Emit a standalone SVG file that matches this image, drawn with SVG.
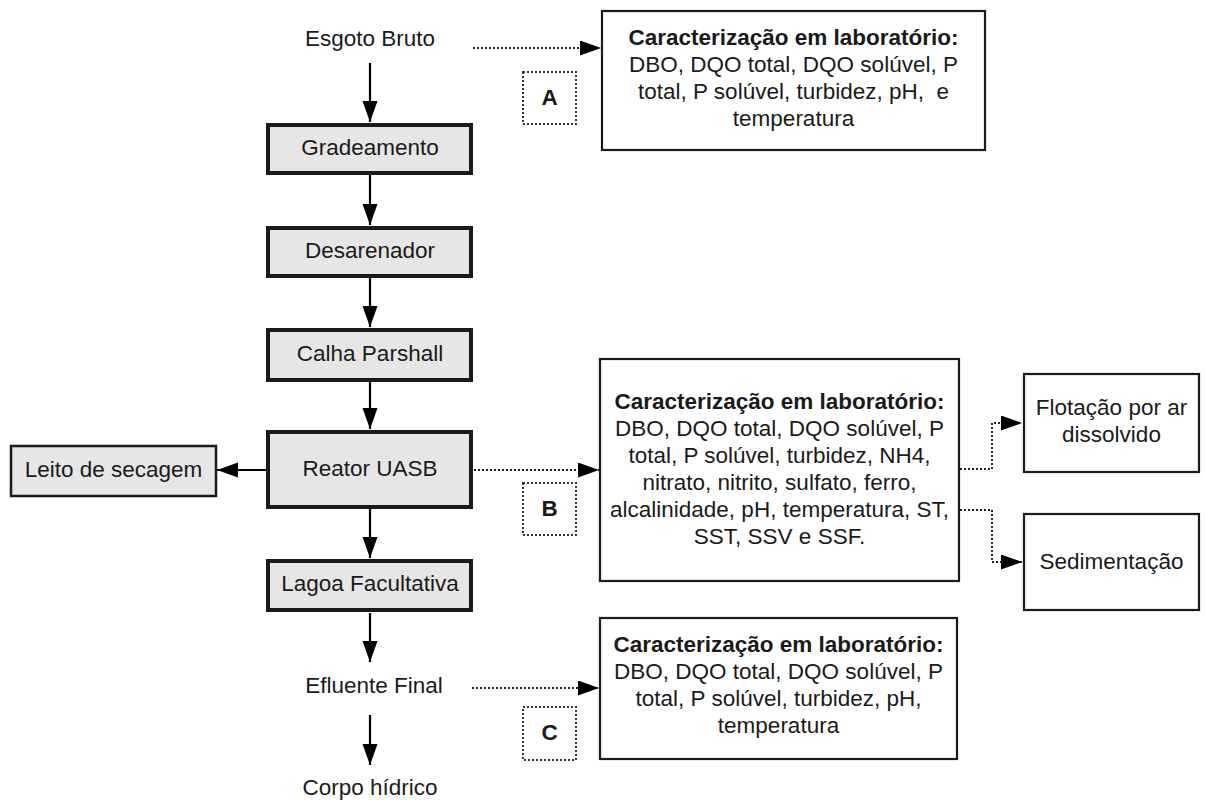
<svg xmlns="http://www.w3.org/2000/svg" width="1205" height="801" viewBox="0 0 1205 801">
<style>
text{font-family:"Liberation Sans",Arial,sans-serif;font-size:22.5px;fill:#1a1a1a;text-anchor:middle}
.b{font-weight:bold}
.main{fill:#e6e6e6;stroke:#1a1a1a;stroke-width:4}
.side{fill:#e6e6e6;stroke:#1a1a1a;stroke-width:2.5}
.lab{fill:#fff;stroke:#1a1a1a;stroke-width:2.2}
.dotbox{fill:none;stroke:#333;stroke-width:2;stroke-dasharray:2 2}
.solid{fill:none;stroke:#000;stroke-width:2.2}
.dot{fill:none;stroke:#222;stroke-width:2;stroke-dasharray:2 2}
</style>
<defs>
<marker id="ah" markerUnits="userSpaceOnUse" markerWidth="22" markerHeight="16" refX="21" refY="7.5" orient="auto">
<path d="M0,0 L21,7.5 L0,15 z" fill="#000"/>
</marker>
</defs>
<g id="connectors">
<line class="solid" x1="370" y1="63" x2="370" y2="122" marker-end="url(#ah)"/>
<line class="solid" x1="370" y1="175" x2="370" y2="225" marker-end="url(#ah)"/>
<line class="solid" x1="370" y1="278" x2="370" y2="327" marker-end="url(#ah)"/>
<line class="solid" x1="370" y1="382" x2="370" y2="429" marker-end="url(#ah)"/>
<line class="solid" x1="370" y1="509" x2="370" y2="558" marker-end="url(#ah)"/>
<line class="solid" x1="370" y1="613" x2="370" y2="662" marker-end="url(#ah)"/>
<line class="solid" x1="370" y1="715" x2="370" y2="765" marker-end="url(#ah)"/>
<line class="solid" x1="266" y1="470" x2="217" y2="470" marker-end="url(#ah)"/>
<line class="dot" x1="474" y1="470" x2="599" y2="470" marker-end="url(#ah)"/>
<line class="dot" x1="473" y1="48" x2="601" y2="48" marker-end="url(#ah)"/>
<line class="dot" x1="472" y1="688" x2="599" y2="688" marker-end="url(#ah)"/>
<path class="dot" d="M960,469 H992 V423 H1022" marker-end="url(#ah)"/>
<path class="dot" d="M960,510 H992 V562 H1022" marker-end="url(#ah)"/>
</g>
<g id="esgoto"><text x="370" y="46">Esgoto Bruto</text></g>
<g id="gradeamento"><rect class="main" x="268" y="125" width="203" height="48"/><text x="370" y="155">Gradeamento</text></g>
<g id="desarenador"><rect class="main" x="268" y="228" width="203" height="48"/><text x="370" y="258">Desarenador</text></g>
<g id="calha"><rect class="main" x="268" y="330" width="203" height="50"/><text x="370" y="361">Calha Parshall</text></g>
<g id="reator"><rect class="main" x="268" y="432" width="203" height="75"/><text x="370" y="476">Reator UASB</text></g>
<g id="leito"><rect class="side" x="11" y="446" width="205" height="50"/><text x="113.5" y="477">Leito de secagem</text></g>
<g id="lagoa"><rect class="main" x="268" y="561" width="203" height="49"/><text x="370" y="591">Lagoa Facultativa</text></g>
<g id="efluente"><text x="374" y="693">Efluente Final</text></g>
<g id="corpo"><text x="370" y="795">Corpo hídrico</text></g>
<g id="labA"><rect class="lab" x="602" y="11" width="383" height="139"/>
<text class="b" x="793.5" y="45">Caracterização em laboratório:</text>
<text x="793.5" y="72">DBO, DQO total, DQO solúvel, P</text>
<text x="793.5" y="99" xml:space="preserve">total, P solúvel, turbidez, pH,  e</text>
<text x="793.5" y="126">temperatura</text></g>
<g id="labelA"><rect class="dotbox" x="523" y="72" width="53" height="52"/><text class="b" x="549.5" y="105">A</text></g>
<g id="labB"><rect class="lab" x="600" y="359" width="359" height="222"/>
<text class="b" x="779.5" y="409">Caracterização em laboratório:</text>
<text x="779.5" y="436">DBO, DQO total, DQO solúvel, P</text>
<text x="779.5" y="463">total, P solúvel, turbidez, NH4,</text>
<text x="779.5" y="490">nitrato, nitrito, sulfato, ferro,</text>
<text x="779.5" y="517">alcalinidade, pH, temperatura, ST,</text>
<text x="779.5" y="544">SST, SSV e SSF.</text></g>
<g id="labelB"><rect class="dotbox" x="523" y="483" width="53" height="52"/><text class="b" x="549.5" y="516">B</text></g>
<g id="flotacao"><rect class="lab" x="1024" y="374" width="175" height="98"/><text x="1111.5" y="415">Flotação por ar</text><text x="1111.5" y="442">dissolvido</text></g>
<g id="sedimentacao"><rect class="lab" x="1024" y="514" width="175" height="96"/><text x="1111.5" y="569">Sedimentação</text></g>
<g id="labC"><rect class="lab" x="600" y="618" width="357" height="141"/>
<text class="b" x="778.5" y="652">Caracterização em laboratório:</text>
<text x="778.5" y="679">DBO, DQO total, DQO solúvel, P</text>
<text x="778.5" y="706">total, P solúvel, turbidez, pH,</text>
<text x="778.5" y="733">temperatura</text></g>
<g id="labelC"><rect class="dotbox" x="523" y="707" width="53" height="53"/><text class="b" x="549.5" y="740">C</text></g>
</svg>
